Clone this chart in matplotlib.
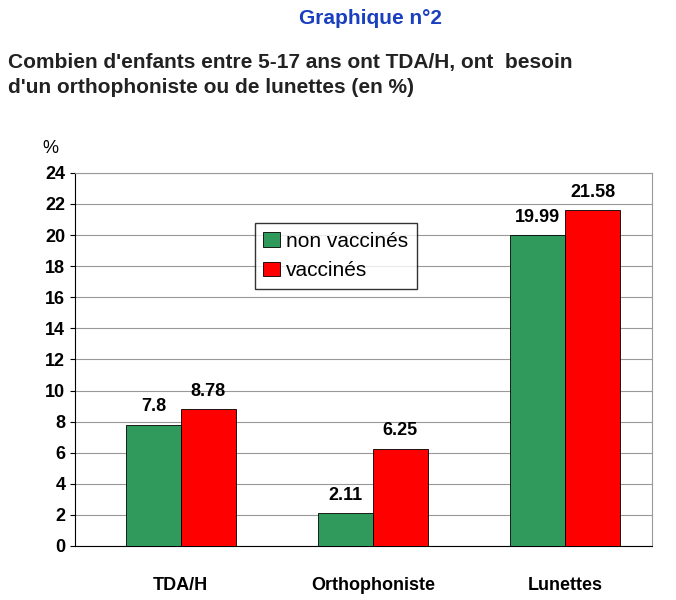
import matplotlib
matplotlib.use("Agg")
import matplotlib.pyplot as plt
import numpy as np

plt.rcParams["font.family"] = ["Liberation Sans", "DejaVu Sans"]

categories = ["TDA/H", "Orthophoniste", "Lunettes"]
non_vaccines = [7.8, 2.11, 19.99]
vaccines = [8.78, 6.25, 21.58]
labels_nv = ["7.8", "2.11", "19.99"]
labels_v = ["8.78", "6.25", "21.58"]

fig = plt.figure(figsize=(6.76, 6.0), dpi=100)
ax = fig.add_axes([0.111, 0.09, 0.853, 0.622])
x = np.arange(len(categories))
w = 0.285
g = "#2f9a5c"
r = "#ff0000"
b1 = ax.bar(x - w/2, non_vaccines, w, color=g, edgecolor="black", linewidth=0.6, label="non vaccinés", zorder=3)
b2 = ax.bar(x + w/2, vaccines, w, color=r, edgecolor="black", linewidth=0.6, label="vaccinés", zorder=3)
for rect, t in zip(b1, labels_nv):
    ax.text(rect.get_x() + rect.get_width()/2, rect.get_height() + 0.6, t, ha="center", va="bottom", fontsize=13, fontweight="bold")
for rect, t in zip(b2, labels_v):
    ax.text(rect.get_x() + rect.get_width()/2, rect.get_height() + 0.6, t, ha="center", va="bottom", fontsize=13, fontweight="bold")
ax.set_xlim(-0.55, 2.45)
ax.set_ylim(0, 24)
ax.set_yticks(range(0, 25, 2))
ax.tick_params(axis="y", labelsize=13, direction="out")
ax.tick_params(axis="x", length=0, labelsize=13, pad=22)
for lab in ax.get_yticklabels():
    lab.set_fontweight("bold")
ax.set_xticks(x)
ax.set_xticklabels(categories, fontweight="bold")
ax.yaxis.grid(True, color="#999999", linewidth=0.8, zorder=0)
for s in ["top", "right"]:
    ax.spines[s].set_color("#999999")
ax.spines["left"].set_color("black")
ax.spines["bottom"].set_color("black")

fig.legend(handles=[b1, b2], loc="upper left", bbox_to_anchor=(0.362, 0.645), fontsize=15,
           frameon=True, fancybox=False, edgecolor="black", handlelength=0.8, handletextpad=0.3, borderpad=0.4)

fig.text(0.548, 0.97, "Graphique n°2", ha="center", va="center", color="#1a3fbf", fontsize=15, fontweight="bold")
fig.text(0.012, 0.875, "Combien d'enfants entre 5-17 ans ont TDA/H, ont  besoin\nd'un orthophoniste ou de lunettes (en %)",
         ha="left", va="center", fontsize=15, fontweight="bold", color="#222222", linespacing=1.4)
fig.text(0.075, 0.752, "%", ha="center", va="center", fontsize=13)

fig.savefig("out.png", dpi=100)
